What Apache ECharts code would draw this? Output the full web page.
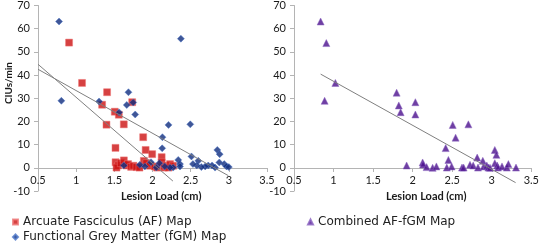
<!DOCTYPE html>
<html>
<head>
<meta charset="utf-8">
<script src="https://cdn.jsdelivr.net/npm/echarts@6/dist/echarts.min.js"></script>
<style>
html, body { margin: 0; padding: 0; background: #fff; }
#chart { width: 542px; height: 245px; }
</style>
</head>
<body>
<div id="chart"></div>
<script>
// lesion load (cm), CIUs/min
var afData = [
  [0.907, 54.0], [1.077, 36.6], [1.405, 32.6], [1.34, 27.2], [1.397, 18.6], [1.506, 24.2],
  [1.559, 22.9], [1.734, 28.3], [1.624, 18.75], [1.515, 8.6], [1.878, 13.2], [1.91, 7.7],
  [1.996, 5.9], [2.12, 4.6], [1.516, 2.4], [1.55, 1.0], [1.528, 0.1], [1.585, 2.0],
  [1.625, 3.2], [1.66, 1.0], [1.68, 1.6], [1.72, 0.4], [1.75, 0.9], [1.79, 0.3],
  [1.83, 0.1], [1.887, 3.0], [1.92, 2.0], [1.966, 0.9], [2.03, 0.6], [2.06, 0.1],
  [2.12, 2.3], [2.15, 0.1], [2.185, 0.9], [2.23, 1.6], [2.27, 0.9], [2.21, 0.1]
];
var fgmData = [
  [0.776, 63.1], [0.806, 28.9], [1.30, 28.6], [1.563, 23.9], [1.685, 32.6], [1.663, 27.1],
  [1.747, 28.2], [1.773, 23.0], [2.372, 55.7], [2.13, 13.2], [2.127, 8.4], [2.21, 18.5],
  [2.495, 18.75], [2.51, 4.9], [2.6, 3.0], [2.337, 3.4], [2.849, 7.7], [2.88, 5.9],
  [2.875, 2.3], [2.94, 1.6], [2.97, 0.6], [3.0, 0.3], [2.82, 0.1], [2.78, 1.0],
  [2.73, 1.0], [2.69, 0.6], [2.64, 0.3], [2.58, 1.0], [2.53, 1.6], [2.36, 1.6],
  [2.36, 0.6], [2.27, 0.1], [2.23, 0.1], [2.16, 0.6], [2.09, 2.0], [2.05, 0.1],
  [1.98, 2.4], [1.9, 0.6], [1.834, 1.3], [1.624, 1.0]
];
var combinedData = [
  [0.833, 63.1], [0.904, 53.8], [0.883, 28.9], [1.017, 36.6], [1.783, 32.4], [1.81, 26.9],
  [1.833, 24.0], [2.017, 28.3], [2.017, 23.0], [1.908, 1.0], [2.108, 2.3], [2.113, 1.4],
  [2.158, 0.3], [2.233, 0], [2.28, 0.6], [2.396, 8.5], [2.43, 3.4], [2.484, 18.5],
  [2.52, 13.0], [2.41, 0.1], [2.47, 0.6], [2.6, 0.1], [2.62, 0.1], [2.68, 18.75],
  [2.7, 1.3], [2.74, 1.0], [2.79, 4.4], [2.8, 0.1], [2.86, 3.0], [2.87, 0.6],
  [2.91, 1.0], [2.93, 0.1], [2.95, 0], [3.01, 7.7], [3.03, 5.6], [3.01, 2.0],
  [3.04, 1.0], [3.05, 0.1], [3.1, 0.6], [3.16, 0.1], [3.18, 1.6], [3.275, 0.1]
];
// linear trendlines: slope, intercept, from x, to x
var afTrend = [-28.5, 58.9, 0.5, 2.267];
var fgmTrend = [-18.4, 51.7, 0.5, 2.993];
var combinedTrend = [-19.2, 56.4, 0.833, 3.27];

var xMin = 0.5, xMax = 3.5, xStep = 0.5;
var yMin = -10, yMax = 70, yStep = 10;

function trendPoints (t) {
  return [[t[2], t[0] * t[2] + t[1]], [t[3], t[0] * t[3] + t[1]]]
}

var tickFont = { fontFamily: 'Lato', fontSize: 11, color: '#1a1a1a' };
var axisGray = '#b4b4b4';

// data x axes (hidden) and the visible x axes that sit on the zero line
function makeX (i, visible) {
  return {
    gridIndex: i, type: 'value', min: xMin, max: xMax, interval: xStep, show: visible,
    axisLine: { onZero: false, lineStyle: { color: axisGray } },
    axisTick: { show: true, length: 4, lineStyle: { color: axisGray } },
    axisLabel: Object.assign({ margin: 7 }, tickFont),
    splitLine: { show: false }
  }
}
function makeY (i, visible) {
  return {
    gridIndex: i, type: 'value', min: visible ? yMin : 0, max: yMax, interval: yStep, show: visible,
    axisLine: { show: true, onZero: false, lineStyle: { color: axisGray } },
    axisTick: { show: true, length: 4, lineStyle: { color: axisGray } },
    axisLabel: Object.assign({ margin: 8 }, tickFont),
    splitLine: { show: false }
  }
}
function trendSeries (t, i) {
  return {
    type: 'line', xAxisIndex: i, yAxisIndex: i, data: trendPoints(t),
    symbol: 'none', silent: true, z: 3,
    lineStyle: { color: '#7f7f7f', width: 1 }
  }
}

var legendText = { fontFamily: 'DejaVu Sans', fontSize: 12, color: '#222' };

var chart = echarts.init(document.getElementById('chart'));
chart.setOption({
  animation: false,
  grid: [
    { left: 38, right: 275, top: 5, bottom: 54 },
    { left: 294, right: 8, top: 5, bottom: 54 },
    { left: 38, right: 275, top: 5, bottom: 77 },
    { left: 294, right: 8, top: 5, bottom: 77 }
  ],
  xAxis: [makeX(0, false), makeX(1, false), makeX(2, true), makeX(3, true)],
  yAxis: [makeY(0, true), makeY(1, true), makeY(2, false), makeY(3, false)],
  legend: [
    {
      orient: 'vertical', left: 12, top: 216, height: 40, padding: 0,
      itemWidth: 5, itemHeight: 5, itemGap: 3,
      textStyle: legendText,
      data: [
        { name: 'Arcuate Fasciculus (AF) Map', icon: 'rect' },
        { name: 'Functional Grey Matter (fGM) Map', icon: 'diamond' }
      ]
    },
    {
      orient: 'vertical', left: 307, top: 216, height: 40, padding: 0,
      itemWidth: 5, itemHeight: 5, itemGap: 3,
      textStyle: legendText,
      data: [{ name: 'Combined AF-fGM Map', icon: 'triangle' }]
    }
  ],
  graphic: [
    {
      type: 'text', left: 4, top: 62, rotation: Math.PI / 2,
      style: { text: 'CIUs/min', font: 'bold 10px Lato', fill: '#1a1a1a' }
    },
    {
      type: 'text', left: 121, top: 191,
      style: { text: 'Lesion Load (cm)', font: 'bold 11px Lato', fill: '#1a1a1a' }
    },
    {
      type: 'text', left: 386, top: 191,
      style: { text: 'Lesion Load (cm)', font: 'bold 11px Lato', fill: '#1a1a1a' }
    }
  ],
  series: [
    {
      name: 'Arcuate Fasciculus (AF) Map', type: 'scatter', xAxisIndex: 0, yAxisIndex: 0,
      symbol: 'rect', symbolSize: 7, data: afData,
      itemStyle: { color: '#cc1111', borderColor: '#ee7777', borderWidth: 0.6 }
    },
    {
      name: 'Functional Grey Matter (fGM) Map', type: 'scatter', xAxisIndex: 0, yAxisIndex: 0,
      symbol: 'diamond', symbolSize: 7, data: fgmData,
      itemStyle: { color: '#0f2c7d', borderColor: '#4d78c8', borderWidth: 0.6 }
    },
    trendSeries(afTrend, 0),
    trendSeries(fgmTrend, 0),
    {
      name: 'Combined AF-fGM Map', type: 'scatter', xAxisIndex: 1, yAxisIndex: 1,
      symbol: 'triangle', symbolSize: 7, data: combinedData,
      itemStyle: { color: '#4b0f8c', borderColor: '#8a62c0', borderWidth: 0.6 }
    },
    trendSeries(combinedTrend, 1)
  ]
});
</script>
</body>
</html>
